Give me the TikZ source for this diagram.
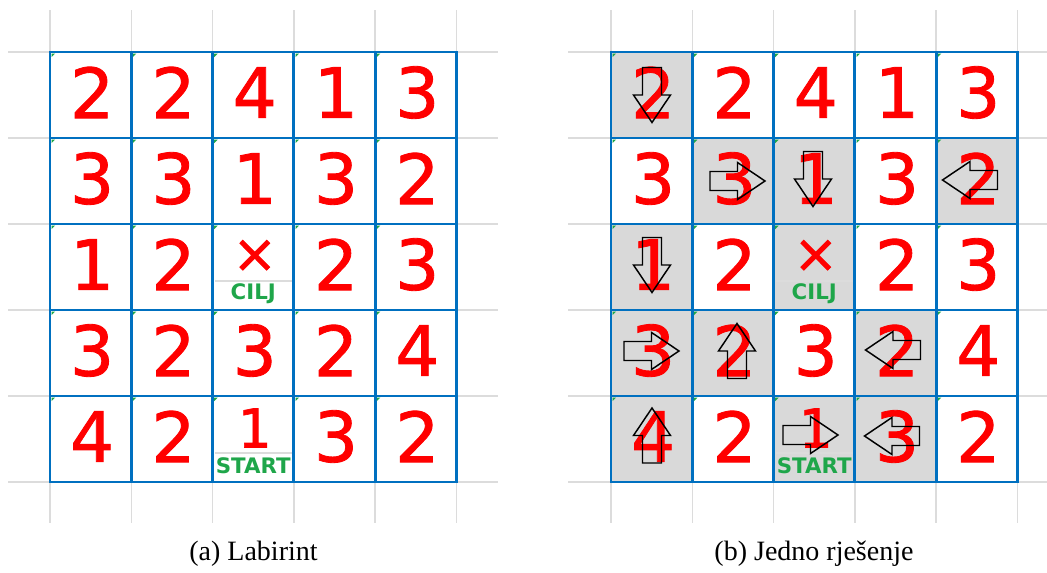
\documentclass[tikz,border=0pt]{standalone}
\usepackage{fontspec}
\setmainfont{Liberation Serif}
\newfontfamily\digitfont[FakeBold=1.2]{DejaVu Sans}
\newfontfamily\tagfont{DejaVu Sans}
\usetikzlibrary{calc}
\definecolor{LBblue}{HTML}{0070C0}
\definecolor{LBred}{HTML}{FF0000}
\definecolor{LBgreen}{HTML}{1FA64A}
\definecolor{LBgrid}{HTML}{DCDCDC}
\definecolor{LBshade}{HTML}{D9D9D9}
\def\cw{81.3}
\def\ch{86}
\def\gy{52}
% block arrow: x, y, direction angle
\newcommand{\blockarrow}[3]{%
  \draw[arrowline,shift={(#1,#2)},rotate=#3]
    (-27.5,-9.5) -- (0,-9.5) -- (0,-18.5) -- (27.5,0) -- (0,18.5) -- (0,9.5) -- (-27.5,9.5) -- cycle;}
% one 5x5 maze: prefix, left edge, gray line from, gray line to
\newcommand{\labgrid}[4]{%
  \foreach \i in {0,...,5}{
    \draw[gridline] ({#2+\i*\cw},11) -- ({#2+\i*\cw},522);
    \draw[gridline] (#3,{\gy+\i*\ch}) -- (#4,{\gy+\i*\ch});
  }
  \draw[gridline] ({#2+2*\cw+3},281) -- ({#2+3*\cw-2},281);
  \draw[gridline] ({#2+2*\cw+3},453) -- ({#2+3*\cw-2},453);
  \foreach \i in {0,...,5}{
    \draw[cellline] ({#2+\i*\cw},\gy) -- ({#2+\i*\cw},{\gy+5*\ch});
    \draw[cellline] (#2,{\gy+\i*\ch}) -- ({#2+5*\cw},{\gy+\i*\ch});
  }
  \foreach \r in {0,...,4}{\foreach \c in {0,...,4}{
    \fill[LBgreen] ({#2+\c*\cw+1.6},{\gy+\r*\ch+1.6}) -- ++(3.5,0) -- ++(-3.5,3.5) -- cycle;}}
  \foreach \r/\c/\v in {0/0/2,0/1/2,0/2/4,0/3/1,0/4/3,
      1/0/3,1/1/3,1/2/1,1/3/3,1/4/2,
      2/0/1,2/1/2,2/3/2,2/4/3,
      3/0/3,3/1/2,3/2/3,3/3/2,3/4/4,
      4/0/4,4/1/2,4/3/3,4/4/2}
    \node[num] (#1-\r-\c) at ({#2+(\c+0.5)*\cw+1.5},{\gy+(\r+0.5)*\ch-2.5}) {\v};
  \node[goalx] (#1-goal) at ({#2+2.5*\cw+1.5},256) {×};
  \node[num,font=\digitfont\fontsize{40}{40}\selectfont] (#1-one) at ({#2+2.5*\cw+1.5},428) {1};
  \node[celltag] (#1-cilj) at ({#2+2.5*\cw},294) {CILJ};
  \node[celltag] (#1-start) at ({#2+2.5*\cw},466) {START};
}

\begin{document}
\begin{tikzpicture}[
  x=0.75pt,y=-0.75pt,
  line cap=rect,
  gridline/.style={draw=LBgrid,line width=1.1pt},
  cellline/.style={draw=LBblue,line width=2.2pt},
  shade/.style={fill=LBshade},
  num/.style={text=LBred,font=\digitfont\fontsize{52}{52}\selectfont,inner sep=0pt},
  goalx/.style={text=LBred,font=\digitfont\fontsize{40}{40}\selectfont,inner sep=0pt},
  celltag/.style={text=LBgreen,font=\tagfont\bfseries\fontsize{16}{16}\selectfont,inner sep=0pt},
  arrowline/.style={draw=black,line width=1.1pt,line join=miter},
  caption/.style={font=\fontsize{21}{21}\selectfont,text=black}
]
\useasboundingbox (0,0) rectangle (1047,573);

% shaded cells of the solution path
\foreach \r/\c in {0/0,1/1,1/2,1/4,2/0,2/2,3/0,3/1,3/3,4/0,4/2,4/3}
  \fill[shade] ({611+\c*\cw},{\gy+\r*\ch}) rectangle ++(\cw,\ch);

\labgrid{a}{50}{9}{497}
\labgrid{b}{611}{569}{1047}

\blockarrow{652}{95}{-90}
\blockarrow{737.5}{181}{0}
\blockarrow{813}{179}{-90}
\blockarrow{970}{180}{180}
\blockarrow{652}{265}{-90}
\blockarrow{651.5}{351}{0}
\blockarrow{737}{351}{90}
\blockarrow{893}{350}{180}
\blockarrow{652}{435.5}{90}
\blockarrow{810.5}{435}{0}
\blockarrow{892}{436}{180}

\node[caption] (capa) at (253.5,554) {(a) Labirint};
\node[caption] (capb) at (814,554) {(b) Jedno rješenje};
\end{tikzpicture}
\end{document}
